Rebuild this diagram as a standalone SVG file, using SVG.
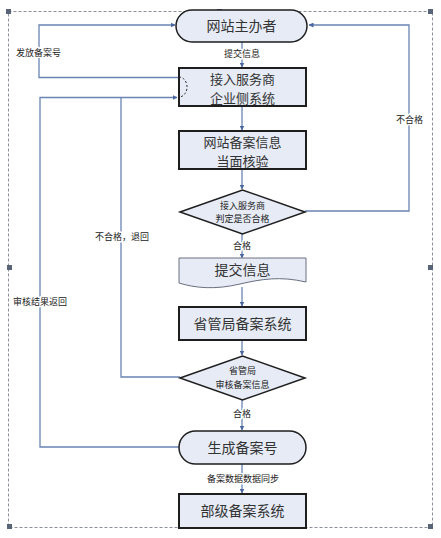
<svg xmlns="http://www.w3.org/2000/svg" width="441" height="538" viewBox="0 0 441 538">
<defs>
<marker id="arr" viewBox="0 0 10 10" refX="9" refY="5" markerWidth="5" markerHeight="5" orient="auto" markerUnits="userSpaceOnUse">
<path d="M0,0 L10,5 L0,10 Z" fill="#4a68a0"/>
</marker>
<style>
.bg{fill:#ffffff}
.sel{fill:none;stroke:#8a8f99;stroke-width:1;stroke-dasharray:3,2}
.hdl{fill:#5a6478}
.node{fill:#e6ebf5;stroke:#1e1e1e;stroke-width:1.5}
.box{fill:#e6ebf5;stroke:#1e1e1e;stroke-width:2}
.doc{fill:#e6ebf5;stroke:#6a7080;stroke-width:1}
.ln{fill:none;stroke:#6a84b4;stroke-width:1.3}
.t{font-family:"Noto Sans CJK SC","Noto Sans",sans-serif;font-size:14px;fill:#333;text-anchor:middle}
.t2{font-family:"Noto Sans CJK SC","Noto Sans",sans-serif;font-size:13px;fill:#333;text-anchor:middle}
.ts{font-family:"Noto Sans CJK SC","Noto Sans",sans-serif;font-size:9px;fill:#222;text-anchor:middle}
.lb{font-family:"Noto Sans CJK SC","Noto Sans",sans-serif;font-size:9px;fill:#222;stroke:#fff;stroke-width:3;paint-order:stroke;stroke-linejoin:round}
</style>
</defs>
<rect class="bg" width="441" height="538"/>
<g id="selection">
<rect class="sel" x="8.5" y="11.5" width="424" height="516"/>
<rect class="hdl" x="6" y="9" width="5" height="5"/>
<rect class="hdl" x="217" y="9" width="5" height="5"/>
<rect class="hdl" x="428" y="9" width="5" height="5"/>
<rect class="hdl" x="7" y="265" width="5" height="5"/>
<rect class="hdl" x="428" y="265" width="5" height="5"/>
<rect class="hdl" x="7" y="524" width="5" height="5"/>
<rect class="hdl" x="217" y="524" width="5" height="5"/>
<rect class="hdl" x="428" y="524" width="5" height="5"/>
</g>
<g id="connectors">
<path class="ln" d="M242,42 V67" marker-end="url(#arr)"/>
<path class="ln" d="M242,107 V130" marker-end="url(#arr)"/>
<path class="ln" d="M242,169 V189" marker-end="url(#arr)"/>
<path class="ln" d="M242,234 V258" marker-end="url(#arr)"/>
<path class="ln" d="M242,287 V306" marker-end="url(#arr)"/>
<path class="ln" d="M242,340 V355" marker-end="url(#arr)"/>
<path class="ln" d="M242,400 V430" marker-end="url(#arr)"/>
<path class="ln" d="M242,464 V493" marker-end="url(#arr)"/>
<path class="ln" d="M179,77.5 H39 V25 H175" marker-end="url(#arr)"/>
<path class="ln" d="M179,447 H40 V97.5 H177" marker-end="url(#arr)"/>
<path class="ln" d="M180,377 H121 V97.5"/>
<path class="ln" d="M305,211 H409 V25 H309" marker-end="url(#arr)"/>
<text class="lb" x="224" y="57">提交信息</text>
<text class="lb" x="16" y="56">发放备案号</text>
<text class="lb" x="396" y="123">不合格</text>
<text class="lb" x="95" y="240">不合格，退回</text>
<text class="lb" x="233" y="249">合格</text>
<text class="lb" x="13" y="305">审核结果返回</text>
<text class="lb" x="233" y="417">合格</text>
<text class="lb" x="207" y="482">备案数据数据同步</text>
</g>
<g id="n1">
<rect class="node" x="176" y="10" width="131" height="32" rx="16" ry="16"/>
<text class="t" x="241.5" y="31">网站主办者</text>
</g>
<g id="n2">
<rect class="box" x="179" y="68" width="127" height="38"/>
<path d="M179,77 A8,10 0 0 1 179,97" fill="none" stroke="#222" stroke-width="1" stroke-dasharray="2,2"/>
<text class="t2" x="242.5" y="83.5">接入服务商</text>
<text class="t2" x="242.5" y="102.5">企业侧系统</text>
</g>
<g id="n3">
<rect class="box" x="179" y="131" width="127" height="38"/>
<text class="t2" x="242.5" y="146.5">网站备案信息</text>
<text class="t2" x="242.5" y="165.5">当面核验</text>
</g>
<g id="n4">
<path class="node" d="M180,212 L242.5,190 L305,212 L242.5,234 Z"/>
<text class="ts" x="242.5" y="209">接入服务商</text>
<text class="ts" x="242.5" y="222">判定是否合格</text>
</g>
<g id="n5">
<path class="doc" d="M179,258 H306 V282 C280,276 262,279 240,284 C215,290 195,288 179,283 Z"/>
<text class="t" x="242.5" y="275">提交信息</text>
</g>
<g id="n6">
<rect class="box" x="179" y="307" width="127" height="33"/>
<text class="t" x="242.5" y="329">省管局备案系统</text>
</g>
<g id="n7">
<path class="node" d="M180,378 L242.5,356 L305,378 L242.5,400 Z"/>
<text class="ts" x="242.5" y="374">省管局</text>
<text class="ts" x="242.5" y="388">审核备案信息</text>
</g>
<g id="n8">
<rect class="node" x="179" y="431" width="127" height="33" rx="16.5" ry="16.5"/>
<text class="t" x="242.5" y="453">生成备案号</text>
</g>
<g id="n9">
<rect class="box" x="179" y="494" width="127" height="34"/>
<text class="t" x="242.5" y="516">部级备案系统</text>
</g>
</svg>
